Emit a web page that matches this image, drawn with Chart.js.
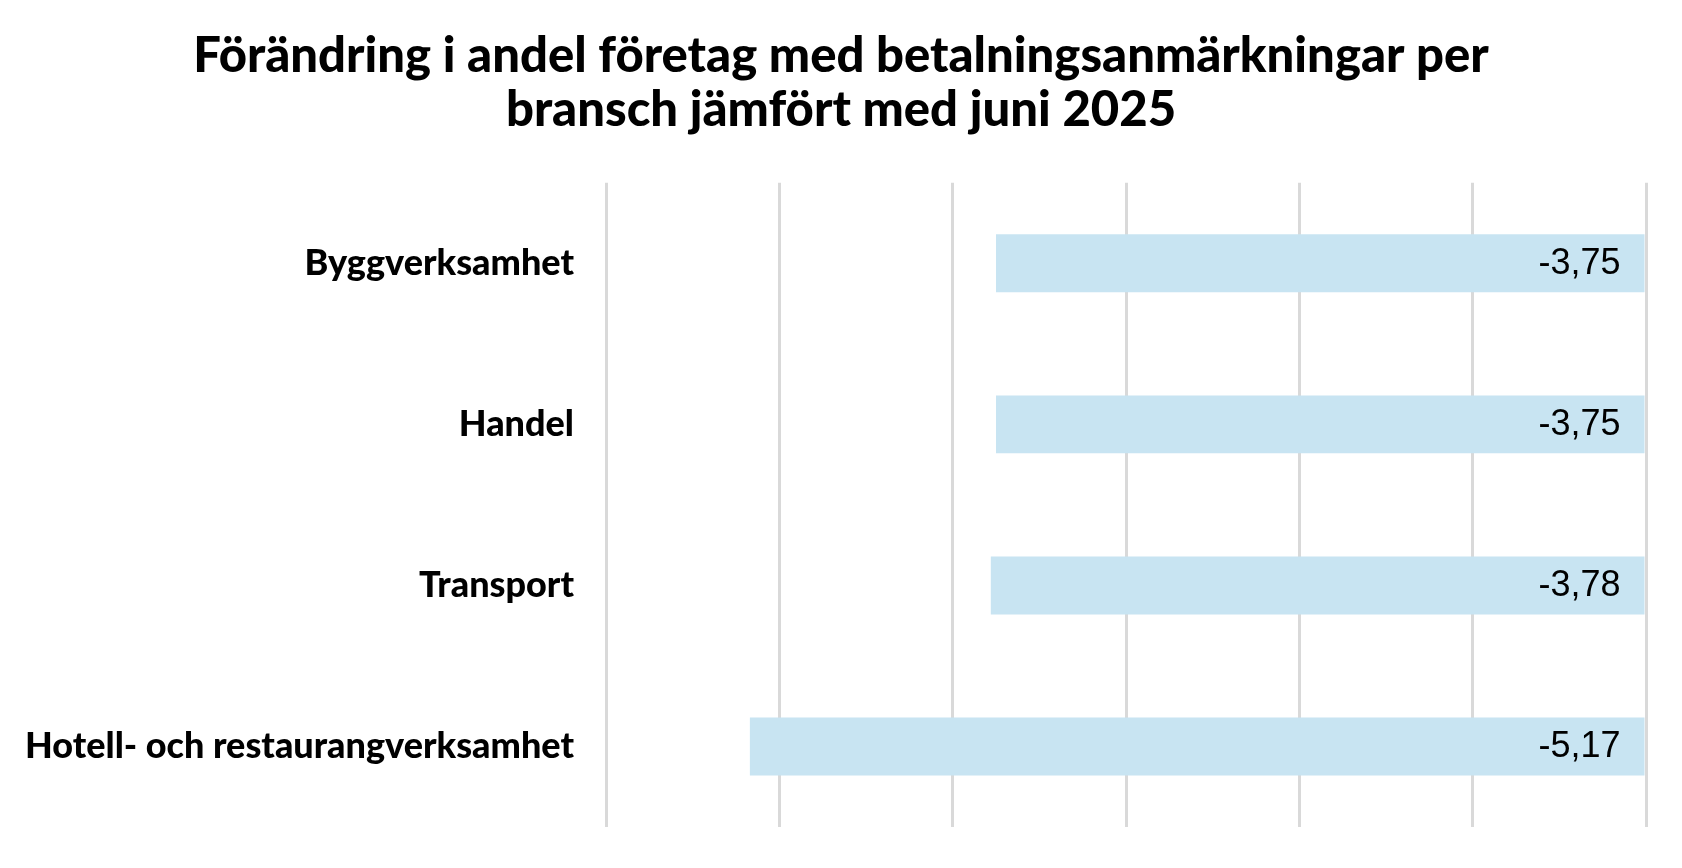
<!DOCTYPE html>
<html lang="sv">
  <head>
    <title>Betalningsanmärkningar per bransch</title>
    <meta charset="UTF-8" />
    <style>
      html, body { margin: 0; padding: 0; background: #ffffff; overflow: hidden; }
      canvas { display: block; }
    </style>
  </head>
  <body>
    <canvas id="myChart" width="1682" height="868"></canvas>
    <script src="https://cdn.jsdelivr.net/npm/chart.js@4"></script>
    <script>
      // data
      var branscher = ["Byggverksamhet", "Handel", "Transport", "Hotell- och restaurangverksamhet"];
      var forandring = [-3.75, -3.75, -3.78, -5.17];
      var titelRader = ["Förändring i andel företag med betalningsanmärkningar per", "bransch jämfört med juni 2025"];

      // etiketter i slutet av staplarna (vid 0-linjen), svensk decimalkomma
      var stapelEtiketter = {
        id: "stapelEtiketter",
        afterDatasetsDraw: function (chart) {
          var ctx = chart.ctx;
          var meta = chart.getDatasetMeta(0);
          ctx.save();
          ctx.font = "36px 'Liberation Sans', Arial, sans-serif";
          ctx.fillStyle = "#000000";
          ctx.textAlign = "right";
          ctx.textBaseline = "middle";
          meta.data.forEach(function (bar, i) {
            var txt = forandring[i].toFixed(2).replace(".", ",");
            ctx.fillText(txt, bar.base - 24, bar.y + 1);
          });
          ctx.restore();
        },
      };

      var ctx = document.getElementById("myChart");
      var myChart = new Chart(ctx, {
        type: "bar",
        data: {
          labels: branscher,
          datasets: [
            {
              data: forandring,
              backgroundColor: "#c8e4f2",
              borderWidth: 0,
              barPercentage: 0.36,
              categoryPercentage: 1,
            },
          ],
        },
        options: {
          indexAxis: "y",
          responsive: false,
          devicePixelRatio: 1,
          animation: false,
          layout: { padding: { left: 0, right: 0, top: 0, bottom: 41 } },
          plugins: {
            legend: { display: false },
            tooltip: { enabled: false },
            title: {
              display: true,
              text: titelRader,
              color: "#000000",
              font: { family: "Lato", size: 49, weight: "900", lineHeight: 1.1 },
              padding: { top: 29, bottom: 46 },
            },
          },
          scales: {
            x: {
              min: -6,
              max: 0,
              ticks: { display: false, stepSize: 1 },
              grid: { color: "#d9d9d9", lineWidth: 3, drawTicks: false },
              border: { display: false },
              afterFit: function (scale) {
                scale.height = 0;
              },
            },
            y: {
              grid: { display: false, drawTicks: false },
              border: { display: false },
              ticks: {
                color: "#000000",
                padding: 32,
                font: { family: "Lato", size: 36, weight: "900" },
              },
              afterFit: function (scale) {
                scale.width = 606;
                // etikettmarginalen ska inte krympa ritytan uppe/nere
                scale.paddingTop = 0;
                scale.paddingBottom = 0;
              },
            },
            // tom axel till höger, håller 0-linjen borta från kanten
            hoger: {
              axis: "y",
              position: "right",
              grid: { display: false, drawTicks: false },
              border: { display: false },
              ticks: { display: false },
              afterFit: function (scale) {
                scale.width = 36;
                scale.paddingTop = 0;
                scale.paddingBottom = 0;
              },
            },
          },
        },
        plugins: [stapelEtiketter],
      });
    </script>
  </body>
</html>
